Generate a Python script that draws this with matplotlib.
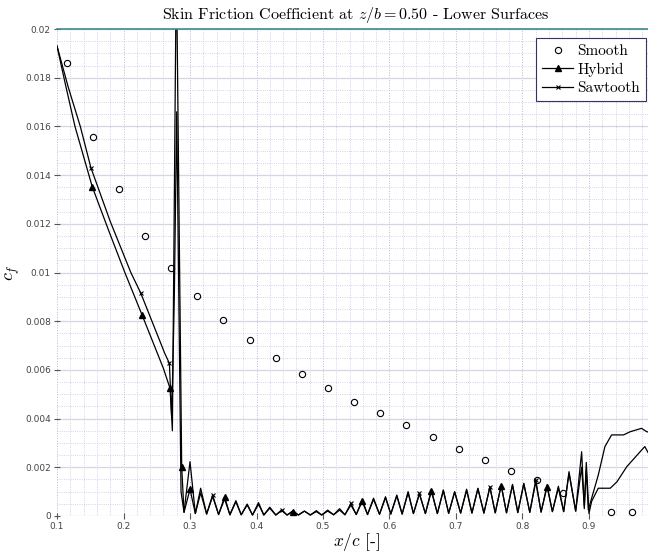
import numpy as np
import matplotlib
matplotlib.use("Agg")
import matplotlib.pyplot as plt
from matplotlib.ticker import MultipleLocator

plt.rcParams['font.family'] = 'serif'
plt.rcParams['font.serif'] = ['cmr10', 'DejaVu Serif']
plt.rcParams['mathtext.fontset'] = 'cm'
plt.rcParams['axes.unicode_minus'] = False

# Smooth (open circles)
smooth_x = [0.115, 0.154, 0.193, 0.232, 0.271, 0.311, 0.350, 0.390, 0.429, 0.468, 0.508,
            0.547, 0.586, 0.625, 0.665, 0.704, 0.744, 0.783, 0.822, 0.861, 0.933, 0.965]
smooth_y = [0.0186, 0.01556, 0.01343, 0.0115, 0.0102, 0.00903, 0.00805, 0.00723, 0.0065,
            0.00583, 0.00526, 0.00468, 0.00423, 0.00374, 0.00324, 0.00275, 0.0023, 0.00185,
            0.00146, 0.00095, 0.00016, 0.00016]

# leading edge part up to the transition spike
hyb_lead_x = [0.100, 0.112, 0.127, 0.153, 0.178, 0.202, 0.228, 0.260, 0.270, 0.2735,
              0.2790, 0.2800, 0.2875]
hyb_lead_y = [0.0193, 0.0178, 0.0160, 0.01352, 0.0117, 0.0100, 0.00825, 0.00606, 0.00524,
              0.0035, 0.0215, 0.0215, 0.0020]
saw_lead_x = [0.100, 0.117, 0.135, 0.151, 0.180, 0.211, 0.226, 0.262, 0.269, 0.2725,
              0.2755, 0.2765, 0.2800, 0.2865]
saw_lead_y = [0.0193, 0.0176, 0.0160, 0.0143, 0.0121, 0.0100, 0.00915, 0.00668, 0.00627,
              0.0040, 0.0078, 0.0092, 0.0166, 0.0010]

# periodic streaks behind the trip: troughs and peaks
trough_x = [0.291, 0.308, 0.325, 0.343, 0.360, 0.377, 0.394, 0.411, 0.429, 0.446, 0.463, 0.481,
            0.498, 0.516, 0.533, 0.550, 0.567, 0.585, 0.602, 0.619, 0.636, 0.654, 0.672, 0.689,
            0.707, 0.724, 0.742, 0.759, 0.776, 0.793, 0.811, 0.828, 0.845, 0.862, 0.880]
trough_y = [0.00015, 0.00010, 0.00008, 0.00006, 0.00005, 0.00005, 0.00004, 0.00004, 0.00004,
            0.00004, 0.00004, 0.00004, 0.00004, 0.00005, 0.00005, 0.00006, 0.00006, 0.00007,
            0.00008, 0.00008, 0.00010, 0.00010, 0.00010, 0.00011, 0.00012, 0.00012, 0.00012,
            0.00013, 0.00013, 0.00014, 0.00015, 0.00016, 0.00018, 0.00018, 0.00020]
peak_x = [0.300, 0.316, 0.334, 0.352, 0.369, 0.386, 0.403, 0.420, 0.438, 0.455, 0.472, 0.490,
          0.507, 0.525, 0.542, 0.559, 0.576, 0.594, 0.611, 0.628, 0.645, 0.663, 0.681, 0.698,
          0.716, 0.733, 0.751, 0.768, 0.785, 0.802, 0.820, 0.837, 0.854, 0.870, 0.889]
hyb_peak = [0.00110, 0.00095, 0.00080, 0.00079, 0.00058, 0.00045, 0.00048, 0.00032, 0.00022,
            0.00018, 0.00020, 0.00018, 0.00020, 0.00024, 0.00045, 0.00060, 0.00068, 0.00075,
            0.00082, 0.00095, 0.00090, 0.00102, 0.00104, 0.00098, 0.00105, 0.00112, 0.00118,
            0.00125, 0.00126, 0.00132, 0.00140, 0.00120, 0.00115, 0.00175, 0.00200]
saw_peak = [0.00223, 0.00114, 0.00086, 0.00070, 0.00063, 0.00049, 0.00055, 0.00036, 0.00025,
            0.00022, 0.00020, 0.00022, 0.00024, 0.00030, 0.00052, 0.00066, 0.00073, 0.00079,
            0.00086, 0.00100, 0.00093, 0.00107, 0.00107, 0.00100, 0.00110, 0.00114, 0.00120,
            0.00127, 0.00130, 0.00134, 0.00148, 0.00127, 0.00122, 0.00182, 0.00264]

# trailing edge part
hyb_tail_x = [0.893, 0.896, 0.899, 0.914, 0.924, 0.934, 0.952, 0.962, 0.979, 0.987, 1.0]
hyb_tail_y = [0.0004, 0.0019, 0.00025, 0.00168, 0.00285, 0.00333, 0.00333, 0.00346, 0.0036,
              0.00346, 0.0034]
saw_tail_x = [0.893, 0.896, 0.900, 0.904, 0.914, 0.932, 0.942, 0.957, 0.977, 0.984, 0.989, 1.0]
saw_tail_y = [0.0003, 0.0022, 0.0001, 0.0006, 0.00114, 0.00114, 0.0014, 0.00203, 0.00264,
              0.00285, 0.0026, 0.0024]

xticks = [0.1, 0.2, 0.3, 0.4, 0.5, 0.6, 0.7, 0.8, 0.9]
xtick_labels = ['0.1', '0.2', '0.3', '0.4', '0.5', '0.6', '0.7', '0.8', '0.9']
yticks = [0, 0.002, 0.004, 0.006, 0.008, 0.01, 0.012, 0.014, 0.016, 0.018, 0.02]
ytick_labels = ['0', '0.002', '0.004', '0.006', '0.008', '0.01', '0.012', '0.014', '0.016',
                '0.018', '0.02']


def build(lead_x, lead_y, peaks, tail_x, tail_y):
    xs = list(lead_x)
    ys = list(lead_y)
    for tx, ty, px, py in zip(trough_x, trough_y, peak_x, peaks):
        xs += [tx, px]
        ys += [ty, py]
    return xs + list(tail_x), ys + list(tail_y)


hyb_x, hyb_y = build(hyb_lead_x, hyb_lead_y, hyb_peak, hyb_tail_x, hyb_tail_y)
saw_x, saw_y = build(saw_lead_x, saw_lead_y, saw_peak, saw_tail_x, saw_tail_y)

fig = plt.figure(figsize=(6.48, 5.55), dpi=100)
# axes runs slightly past the right edge, like the reference crop
ax = fig.add_axes([0.088, 0.0703, 0.9235, 0.8774])

# marker positions: indices into the line data (peaks sit at len(lead) + 1 + 2k)
hyb_marks = [3, 6, 8, 12, 14, 20, 32, 44, 56, 68, 76]
saw_marks = [3, 6, 8, 19, 31, 43, 55, 67, 75]
ax.plot(saw_x, saw_y, color='black', lw=0.9, marker='x', ms=3, mew=0.8,
        markevery=saw_marks, label='Sawtooth')
ax.plot(hyb_x, hyb_y, color='black', lw=0.9, marker='^', ms=5,
        markevery=hyb_marks, label='Hybrid')
ax.plot(smooth_x, smooth_y, ls='none', marker='o', ms=4.5, mfc='none', mec='black',
        mew=0.8, label='Smooth')

ax.set_xlim(0.1, 1.0)
ax.set_ylim(0, 0.02)
ax.set_xticks(xticks)
ax.set_xticklabels(xtick_labels)
ax.set_yticks(yticks)
ax.set_yticklabels(ytick_labels)
ax.xaxis.set_minor_locator(MultipleLocator(0.02))
ax.yaxis.set_minor_locator(MultipleLocator(0.0005))
for lab in ax.get_xticklabels() + ax.get_yticklabels():
    lab.set_family('DejaVu Sans')
    lab.set_fontsize(6.5)
    lab.set_color('#444444')
ax.tick_params(which='major', direction='inout', length=5, color='#555555', pad=2)
ax.tick_params(which='minor', length=0)

ax.grid(True, which='major', axis='y', color='#d6d6e2', lw=0.9, ls='-')
ax.grid(True, which='major', axis='x', color='#b8b8dc', lw=0.7, ls=':')
ax.grid(True, which='minor', color='#c4c4e4', lw=0.6, ls=':')
ax.set_axisbelow(True)
for side in ['left', 'bottom', 'right']:
    ax.spines[side].set_visible(False)
ax.spines['top'].set_color('#3c8c88')
ax.spines['top'].set_linewidth(1.2)

ax.set_title('Skin Friction Coefficient at $z/b = 0.50$ - Lower Surfaces', fontsize=11.5, pad=7)
ax.set_xlabel('$x/c$ [-]', fontsize=12.5, labelpad=0)
ax.set_ylabel('$c_f$', fontsize=13, labelpad=2)

handles, labels = ax.get_legend_handles_labels()
leg = ax.legend(handles[::-1], labels[::-1], loc='upper right', fontsize=11,
                fancybox=False, framealpha=1, edgecolor='#333366', borderaxespad=0.6,
                handlelength=2.0, handletextpad=0.3, labelspacing=0.3)
leg.get_frame().set_linewidth(0.8)

fig.savefig('out.png', dpi=100)
